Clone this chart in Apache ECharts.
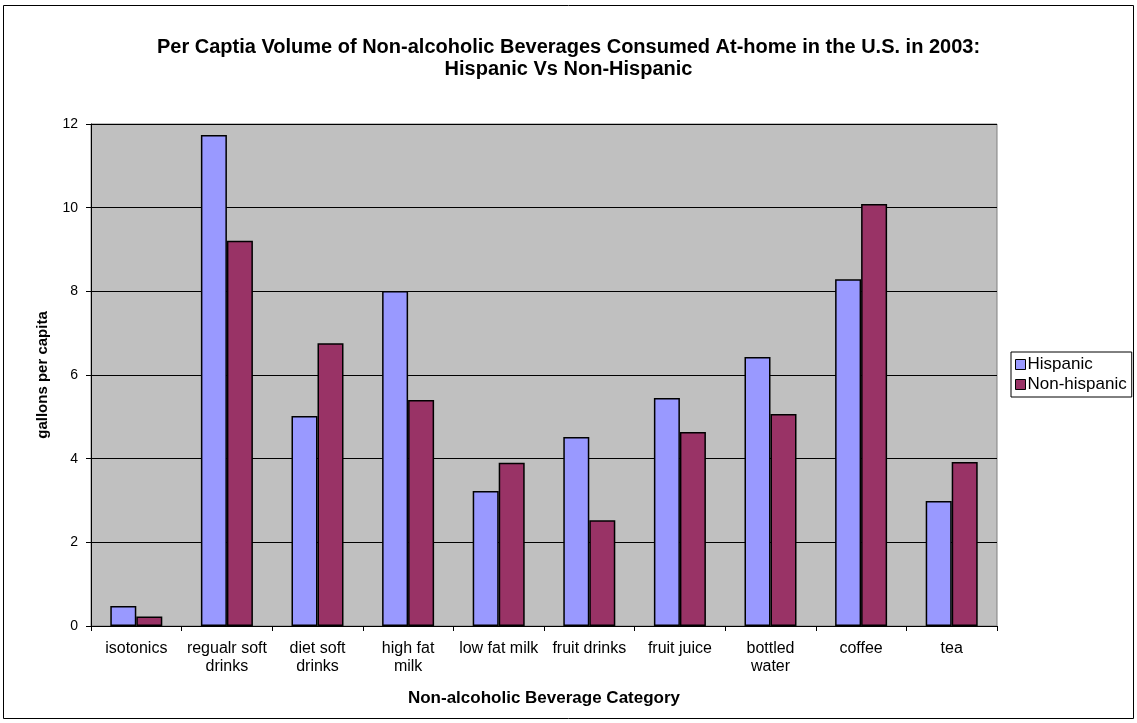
<!DOCTYPE html>
<html>
<head>
<meta charset="utf-8">
<script src="https://cdn.jsdelivr.net/npm/echarts@6/dist/echarts.min.js"></script>
<style>
  html, body { margin: 0; padding: 0; background: #ffffff; }
  #chart { width: 1137px; height: 723px; }
</style>
</head>
<body>
<div id="chart"></div>
<script>
// Beverage categories along the x axis
const categories = [
  'isotonics', 'regualr soft\ndrinks', 'diet soft\ndrinks', 'high fat\nmilk',
  'low fat milk', 'fruit drinks', 'fruit juice', 'bottled\nwater', 'coffee', 'tea'
];
// Gallons per capita, 2003
const hispanic    = [0.48, 11.74, 5.02, 8.01, 3.23, 4.52, 5.45, 6.43, 8.29, 2.99];
const nonHispanic = [0.23, 9.21, 6.76, 5.40, 3.90, 2.53, 4.64, 5.07, 10.09, 3.92];
const seriesNames = ['Hispanic', 'Non-hispanic'];
const yTicks = [0, 2, 4, 6, 8, 10, 12];

const FONT = '"Liberation Sans", Arial, sans-serif';
const chart = echarts.init(document.getElementById('chart'), null, { renderer: 'canvas' });

chart.setOption({
  backgroundColor: '#ffffff',
  animation: false,
  textStyle: { fontFamily: FONT, color: '#000' },
  title: {
    text: 'Per Captia Volume of Non-alcoholic Beverages Consumed At-home in the U.S. in 2003:\nHispanic Vs Non-Hispanic',
    left: 'center',
    top: 31,
    textStyle: { fontFamily: FONT, fontSize: 20, fontWeight: 'bold', color: '#000', lineHeight: 22 }
  },
  graphic: [{
    type: 'rect',
    shape: { x: 3.5, y: 5.5, width: 1130, height: 713 },
    style: { fill: 'none', stroke: '#000', lineWidth: 1 },
    silent: true
  }],
  legend: {
    orient: 'vertical',
    left: 1011,
    top: 352,
    itemWidth: 10,
    itemHeight: 10,
    itemGap: 3,
    padding: [4, 5, 4, 4],
    borderColor: '#000',
    borderWidth: 1,
    backgroundColor: '#fff',
    borderRadius: 0,
    textStyle: { fontFamily: FONT, fontSize: 17, color: '#000', padding: [0, 0, 0, -3] },
    data: seriesNames.map(n => ({ name: n, icon: 'rect', itemStyle: { borderColor: '#000', borderWidth: 1 } }))
  },
  grid: {
    left: 91, right: 140, top: 124, bottom: 97,
    show: true, backgroundColor: '#c0c0c0', borderColor: '#808080', borderWidth: 1
  },
  xAxis: {
    type: 'category',
    data: categories,
    name: 'Non-alcoholic Beverage Category',
    nameLocation: 'middle',
    nameGap: 64,
    nameTextStyle: { fontFamily: FONT, fontSize: 17, fontWeight: 'bold', color: '#000' },
    axisLine: { lineStyle: { color: '#000', width: 1 } },
    axisTick: { show: true, length: 5, lineStyle: { color: '#000' }, alignWithLabel: false },
    axisLabel: { fontFamily: FONT, fontSize: 16, color: '#000', lineHeight: 18, margin: 14, interval: 0 }
  },
  yAxis: {
    type: 'value',
    min: 0, max: 12, interval: 2,
    name: 'gallons per capita',
    nameLocation: 'middle',
    nameGap: 41,
    nameTextStyle: { fontFamily: FONT, fontSize: 15, fontWeight: 'bold', color: '#000' },
    axisLine: { show: true, lineStyle: { color: '#000', width: 1 } },
    axisTick: { show: true, length: 5, lineStyle: { color: '#000' } },
    axisLabel: {
      fontFamily: FONT, fontSize: 14, color: '#000', margin: 13,
      formatter: v => (yTicks.includes(v) ? String(v) : '')
    },
    splitLine: { show: true, lineStyle: { color: '#000', width: 1 } }
  },
  series: [
    {
      name: seriesNames[0], type: 'bar', data: hispanic,
      barGap: '0%', barCategoryGap: '42.6%',
      itemStyle: { color: '#9999ff', borderColor: '#000', borderWidth: 1.5 }
    },
    {
      name: seriesNames[1], type: 'bar', data: nonHispanic,
      barGap: '0%', barCategoryGap: '42.6%',
      itemStyle: { color: '#993366', borderColor: '#000', borderWidth: 1.5 }
    }
  ]
});
</script>
</body>
</html>
